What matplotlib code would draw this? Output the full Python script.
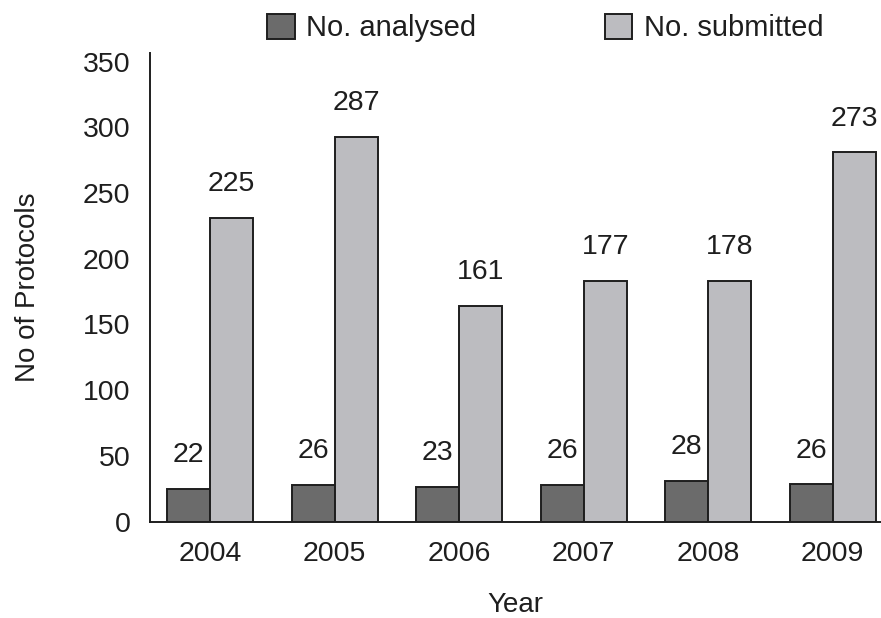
import numpy as np
import matplotlib.pyplot as plt

plt.rcParams['font.family'] = ['Liberation Sans', 'DejaVu Sans']

years = ['2004', '2005', '2006', '2007', '2008', '2009']
# heights of the bars as drawn
analysed = [24.7, 27.8, 26.5, 27.8, 30.8, 28.3]
submitted = [231, 293, 164, 183, 183, 281]
# numbers printed above the bars
analysed_labels = [22, 26, 23, 26, 28, 26]
submitted_labels = [225, 287, 161, 177, 178, 273]

text_col = '#1e1e1e'
dark = '#6b6b6b'
light = '#bcbcc0'

fig = plt.figure(figsize=(8.81, 6.18), dpi=100)
ax = fig.add_axes([0.1703, 0.156, 0.8287, 0.758])

x = np.arange(len(years))
w = 0.345
b1 = ax.bar(x - w / 2, analysed, w, color=dark, edgecolor=text_col, linewidth=1.4, label='No. analysed')
b2 = ax.bar(x + w / 2, submitted, w, color=light, edgecolor=text_col, linewidth=1.4, label='No. submitted')

for bars, labs in ((b1, analysed_labels), (b2, submitted_labels)):
    for rect, lab in zip(bars, labs):
        ax.annotate(str(lab), (rect.get_x() + rect.get_width() / 2, rect.get_height()),
                    xytext=(0, 15), textcoords='offset points', ha='center', va='bottom',
                    fontsize=20.5, color=text_col)

ax.set_xlim(-0.482, 5.38)
ax.set_ylim(0, 356.5)
ax.set_yticks(range(0, 351, 50))
ax.set_xticks(x)
ax.set_xticklabels(years)
ax.tick_params(length=0, labelsize=20.5, colors=text_col)
ax.tick_params(axis='y', pad=14)
ax.tick_params(axis='x', pad=14)

for s in ('top', 'right'):
    ax.spines[s].set_visible(False)
for s in ('left', 'bottom'):
    ax.spines[s].set_color(text_col)
    ax.spines[s].set_linewidth(1.4)

ax.set_ylabel('No of Protocols', fontsize=20, color=text_col, labelpad=30)
ax.set_xlabel('Year', fontsize=20, color=text_col, labelpad=18)

fig.legend(handles=[b1, b2], loc='center', bbox_to_anchor=(0.619, 0.955), ncol=2,
           frameon=False, fontsize=21, handlelength=0.95, handleheight=0.95,
           handletextpad=0.4, columnspacing=4.4, labelcolor=text_col)

fig.savefig('out.png', dpi=100)
